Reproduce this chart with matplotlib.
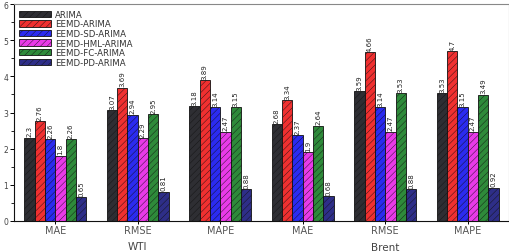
import matplotlib
matplotlib.use("Agg")
import matplotlib.pyplot as plt
import numpy as np

metrics = ["MAE", "RMSE", "MAPE", "MAE", "RMSE", "MAPE"]
datasets = ["WTI", "Brent"]
models = ["ARIMA", "EEMD-ARIMA", "EEMD-SD-ARIMA", "EEMD-HML-ARIMA", "EEMD-FC-ARIMA", "EEMD-PD-ARIMA"]

arima      = [2.3, 3.07, 3.18, 2.68, 3.59, 3.53]
eemd_arima = [2.76, 3.69, 3.89, 3.34, 4.66, 4.7]
eemd_sd    = [2.26, 2.94, 3.14, 2.37, 3.14, 3.15]
eemd_hml   = [1.8, 2.29, 2.47, 1.9, 2.47, 2.47]
eemd_fc    = [2.26, 2.95, 3.15, 2.64, 3.53, 3.49]
eemd_pd    = [0.65, 0.81, 0.88, 0.68, 0.88, 0.92]
series = [arima, eemd_arima, eemd_sd, eemd_hml, eemd_fc, eemd_pd]

colors = ["#2e2e33", "#f03030", "#2b2bf0", "#e83ae8", "#2e8a3a", "#2e2e88"]

plt.rcParams["hatch.linewidth"] = 0.3
plt.rcParams["hatch.color"] = "#333333"

fig = plt.figure(figsize=(5.10, 2.53), dpi=100)
ax = fig.add_axes([14/510, 31/253, 495/510, 217/253])

x = np.arange(len(metrics))
w = 0.125
for i, (vals, c, name) in enumerate(zip(series, colors, models)):
    pos = x + (i - 2.5) * w
    ax.bar(pos, vals, width=w, color=c, edgecolor="#111111", linewidth=0.6,
           hatch="/////", label=name)
    for p, v in zip(pos, vals):
        ax.text(p, v + 0.04, f"{v:g}", rotation=90, ha="center", va="bottom",
                fontsize=5, color="#222222", family="Liberation Sans Narrow")

ax.set_xlim(-0.5, 5.5)
ax.set_ylim(0, 6)
ax.set_xticks(x)
ax.set_xticklabels(metrics, fontsize=7, color="#555555")
ax.set_yticks(range(7))
ax.set_yticklabels([str(i) for i in range(7)], fontsize=5.5, color="#444444")
ax.set_yticks(np.arange(0.5, 6, 1), minor=True)
ax.tick_params(axis="y", which="major", length=3, width=0.7, direction="out", pad=1)
ax.tick_params(axis="y", which="minor", length=2, width=0.6, direction="out")
ax.tick_params(axis="x", length=2, width=0.7, direction="out", pad=1)

for s in ["top", "right"]:
    ax.spines[s].set_color("#888888")
    ax.spines[s].set_linewidth(0.8)
for s in ["left", "bottom"]:
    ax.spines[s].set_color("#111111")
    ax.spines[s].set_linewidth(0.8)

ax.text(1, -0.68, datasets[0], ha="center", va="center", fontsize=7.5, color="#444444")
ax.text(4, -0.72, datasets[1], ha="center", va="center", fontsize=7.5, color="#444444")

leg = ax.legend(loc="upper left", bbox_to_anchor=(0.0, 0.995), fontsize=6.2,
                frameon=False, handlelength=3.8, handleheight=0.75,
                labelspacing=0.07, handletextpad=0.4, borderaxespad=0.35,
                borderpad=0.2)
for t in leg.get_texts():
    t.set_color("#333333")

fig.savefig("out.png", dpi=100)
